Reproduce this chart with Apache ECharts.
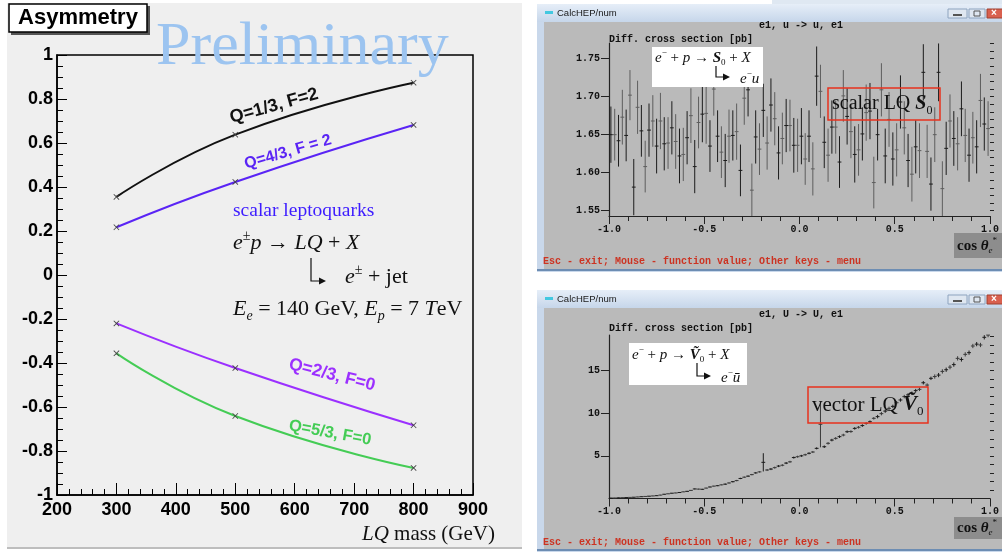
<!DOCTYPE html>
<html><head><meta charset="utf-8">
<script src="https://cdn.jsdelivr.net/npm/echarts@6/dist/echarts.min.js"></script>
<style>html,body{margin:0;padding:0;background:#fff}#c{width:1002px;height:554px}</style>
</head><body><div id="c"></div><script>
// ---------- Left panel: asymmetry vs LQ mass ----------
const massLQ = [300, 500, 800];
const asymQ13F2 = [0.355, 0.638, 0.874];
const asymQ43F2 = [0.217, 0.423, 0.682];
const asymQ23F0 = [-0.220, -0.423, -0.683];
const asymQ53F0 = [-0.356, -0.641, -0.877];

// ---------- Right panels: CalcHEP histograms (100 bins on cos theta) ----------
const cosLow = -1.0, cosBinWidth = 0.02;
const s0Values = [
 1.650,1.650,1.642,1.673,1.649,1.702,1.581,1.686,1.655,1.608,
 1.656,1.668,1.635,1.668,1.638,1.639,1.659,1.641,1.622,1.624,
 1.646,1.675,1.608,1.666,1.677,1.678,1.635,1.710,1.648,1.627,
 1.616,1.648,1.649,1.654,1.603,1.698,1.709,1.577,1.647,1.631,
 1.682,1.639,1.689,1.671,1.626,1.645,1.662,1.662,1.636,1.636,
 1.648,1.618,1.648,1.605,1.727,1.707,1.640,1.623,1.660,1.660,
 1.614,1.701,1.674,1.654,1.624,1.630,1.651,1.679,1.681,1.587,
 1.650,1.709,1.622,1.670,1.618,1.630,1.693,1.659,1.616,1.598,
 1.634,1.629,1.732,1.628,1.585,1.650,1.732,1.579,1.632,1.668,
 1.645,1.638,1.684,1.649,1.623,1.646,1.634,1.695,1.664,1.658];
const s0Errors = [
 0.037,0.034,0.034,0.036,0.034,0.033,0.037,0.035,0.034,0.034,
 0.035,0.034,0.036,0.037,0.035,0.034,0.035,0.036,0.036,0.035,
 0.035,0.036,0.035,0.034,0.037,0.040,0.034,0.035,0.034,0.034,
 0.035,0.035,0.033,0.037,0.034,0.035,0.035,0.035,0.035,0.034,
 0.035,0.035,0.035,0.035,0.035,0.034,0.035,0.034,0.036,0.035,
 0.037,0.034,0.034,0.035,0.039,0.035,0.034,0.035,0.035,0.035,
 0.034,0.034,0.037,0.035,0.037,0.034,0.035,0.037,0.037,0.034,
 0.034,0.035,0.036,0.036,0.035,0.035,0.035,0.035,0.035,0.036,
 0.035,0.036,0.037,0.035,0.035,0.036,0.038,0.036,0.035,0.035,
 0.036,0.035,0.036,0.035,0.035,0.034,0.035,0.035,0.035,0.036];
const v0Values = [
 0.05,0.06,0.08,0.10,0.11,0.13,0.15,0.18,0.21,0.24,
 0.27,0.30,0.33,0.40,0.50,0.55,0.62,0.65,0.70,0.78,
 0.84,0.95,1.12,1.10,1.08,1.22,1.35,1.45,1.50,1.60,
 1.68,1.82,1.97,2.10,2.35,2.50,2.62,2.80,3.00,3.12,
 4.24,3.34,3.45,3.62,3.80,3.90,4.15,4.30,4.80,4.90,
 5.00,5.13,5.30,5.45,5.88,8.70,6.07,6.47,6.85,7.05,
 7.25,7.44,7.83,7.85,8.22,8.35,8.55,8.80,9.00,9.40,
 9.60,9.95,10.25,10.57,10.80,11.23,11.55,11.95,12.15,12.35,
 12.65,12.80,13.57,13.30,14.09,14.30,14.47,14.90,15.10,15.40,
 15.70,16.43,16.30,16.90,17.10,17.88,18.10,18.00,18.90,19.16];
const v0Errors = [
 0.02,0.02,0.02,0.02,0.02,0.02,0.02,0.02,0.02,0.02,
 0.03,0.03,0.03,0.03,0.03,0.03,0.03,0.03,0.03,0.03,
 0.05,0.05,0.05,0.05,0.05,0.05,0.05,0.05,0.05,0.05,
 0.08,0.08,0.08,0.08,0.08,0.08,0.08,0.08,0.08,0.08,
 1.07,0.12,0.12,0.12,0.12,0.12,0.12,0.12,0.12,0.12,
 0.12,0.12,0.12,0.12,0.12,2.70,0.15,0.15,0.15,0.15,
 0.15,0.15,0.15,0.15,0.15,0.15,0.15,0.15,0.15,0.15,
 0.20,0.20,0.20,0.20,0.20,0.20,0.20,0.20,0.20,0.20,
 0.20,0.20,0.20,0.20,0.20,0.25,0.25,0.25,0.25,0.25,
 0.25,0.25,0.25,0.25,0.25,0.25,0.25,0.25,0.25,0.25];

const cosTickLabels = [-1.0, -0.5, 0.0, 0.5, 1.0];
const s0MajorTicks = [1.55, 1.60, 1.65, 1.70, 1.75];
const s0MinorTicks = [1.55,1.56,1.57,1.58,1.59,1.60,1.61,1.62,1.63,1.64,1.65,1.66,1.67,1.68,1.69,1.70,1.71,1.72,1.73,1.74,1.75,1.76,1.77];
const v0MajorTicks = [5, 10, 15];
const v0MinorTicks = [1,2,3,4,5,6,7,8,9,10,11,12,13,14,15,16,17,18,19];

const binCenters = s0Values.map((_, i) => +(cosLow + cosBinWidth * (i + 0.5)).toFixed(3));
const s0Data = binCenters.map((x, i) => [x, s0Values[i], s0Errors[i]]);
const v0Data = binCenters.map((x, i) => [x, v0Values[i], v0Errors[i]]);

const serif = "'Liberation Serif','DejaVu Serif',serif";
const mono = "'Liberation Mono','DejaVu Sans Mono',monospace";
const sans = "'Liberation Sans',Arial,sans-serif";

function errRender(c1, c2) {
  return function (params, api) {
    const x = api.value(0), y = api.value(1), e = api.value(2);
    const cs = params.coordSys;
    const top = cs.y, bot = cs.y + cs.height;
    const c = api.coord([x, y]);
    const hi = api.coord([x, y + e]);
    const lo = api.coord([x, y - e]);
    const l = api.coord([x - cosBinWidth / 2, y]);
    const r = api.coord([x + cosBinWidth / 2, y]);
    const col = params.dataIndex % 2 ? c2 : c1;
    const y1 = Math.max(top, hi[1]), y2 = Math.min(bot, lo[1]);
    const ch = [];
    if (y2 > y1) ch.push({type: 'line', shape: {x1: c[0], y1: y1, x2: c[0], y2: y2}, style: {stroke: col, lineWidth: 1}});
    if (c[1] >= top && c[1] <= bot) ch.push({type: 'line', shape: {x1: l[0], y1: c[1], x2: r[0], y2: c[1]}, style: {stroke: col, lineWidth: 1}});
    return {type: 'group', children: ch};
  };
}

function rich(size, color) {
  const b = {fontFamily: serif, fontSize: size, lineHeight: Math.round(size * 1.25), fill: color, color: color};
  return {
    n: Object.assign({}, b),
    m: Object.assign({}, b, {fontStyle: 'italic'}),
    bm: Object.assign({}, b, {fontStyle: 'italic', fontWeight: 'bold'}),
    b: Object.assign({}, b, {fontWeight: 'bold'}),
    sup: Object.assign({}, b, {fontSize: Math.round(size * 0.62), lineHeight: Math.round(size * 0.62), verticalAlign: 'top'}),
    sub: Object.assign({}, b, {fontSize: Math.round(size * 0.62), lineHeight: Math.round(size * 0.62), verticalAlign: 'bottom'}),
    subm: Object.assign({}, b, {fontStyle: 'italic', fontSize: Math.round(size * 0.62), lineHeight: Math.round(size * 0.62), verticalAlign: 'bottom'})
  };
}
function T(x, y, text, font, fill, align) {
  return {type: 'text', z: 20, style: {text: text, x: x, y: y, font: font, fill: fill,
    textAlign: align || 'left', align: align || 'left', textVerticalAlign: 'middle', verticalAlign: 'middle'}};
}
function RT(x, y, text, size, color) {
  return {type: 'text', z: 20, style: {text: text, x: x, y: y, rich: rich(size, color), fill: color,
    textAlign: 'left', align: 'left', textVerticalAlign: 'middle', verticalAlign: 'middle', font: size + 'px ' + serif}};
}
function rotT(cx, cy, rot, text, font, fill) {
  return {type: 'text', z: 20, x: cx, y: cy, rotation: rot, style: {text: text, x: 0, y: 0, font: font, fill: fill,
    textAlign: 'center', align: 'center', textVerticalAlign: 'middle', verticalAlign: 'middle'}};
}
function R(x, y, w, h, fill, stroke, lw, z) {
  return {type: 'rect', z: z === undefined ? -5 : z, shape: {x: x, y: y, width: w, height: h},
    style: {fill: fill || 'none', stroke: stroke || 'none', lineWidth: lw || 0}};
}
function L(pts, stroke, lw, z) {
  return {type: 'polyline', z: z === undefined ? 20 : z, shape: {points: pts}, style: {stroke: stroke, lineWidth: lw, fill: 'none'}};
}
function arrowHook(x, y1, y2, x2, col) {
  return [L([[x, y1], [x, y2], [x2, y2]], col, 1.2),
    {type: 'polygon', z: 20, shape: {points: [[x2 + 6, y2], [x2 - 1, y2 - 3.5], [x2 - 1, y2 + 3.5]]}, style: {fill: col}}];
}
function windowChrome(top, bottom) {
  const grad = new echarts.graphic.LinearGradient(0, 0, 0, 1, [{offset: 0, color: '#e6eef8'}, {offset: 1, color: '#c6d6ea'}]);
  return [
    R(537, top, 470, bottom - top + 3, '#c9d8eb', null, 0, -6),
    {type: 'rect', z: -5, shape: {x: 537, y: top, width: 470, height: 18}, style: {fill: grad}},
    R(544, top + 18, 460, bottom - top - 18, '#bababa', null, 0, -5),
    R(537, bottom, 470, 2, '#6d8db3', null, 0, -5),
    R(545, top + 7, 8, 3, '#43c8e0', null, 0, 20),
    T(557, top + 9, 'CalcHEP/num', '9.5px ' + sans, '#1a1a1a'),
    R(948, top + 5, 19, 9, '#dfe7f1', '#8ea4bf', 1, 20),
    R(969, top + 5, 16, 9, '#dfe7f1', '#8ea4bf', 1, 20),
    R(987, top + 5, 16, 9, '#d9604f', '#a04030', 1, 20),
    R(953, top + 10, 9, 2, '#555', null, 0, 21),
    R(974, top + 7, 6, 5, 'none', '#555', 1, 21),
    T(991, top + 9.5, '×', 'bold 10px ' + sans, '#fff')
  ];
}

const graphics = [].concat(
  [
    R(0, 0, 1002, 554, '#ffffff', null, 0, -10),
    R(7, 3, 515, 545, '#efefef', null, 0, -6),
    R(7, 547, 515, 2, '#bdbdbd', null, 0, -6),
    R(772, 0, 230, 4, '#dfe8f2', null, 0, -6)
  ],
  windowChrome(4, 269),
  windowChrome(290, 549),
  [
    // Left panel decorations
    R(11, 6, 139, 29, '#555555', null, 0, 19),
    R(9, 4, 138, 28, '#ffffff', '#000000', 1.5, 19),
    T(78, 18, 'Asymmetry', 'bold 22px ' + sans, '#000', 'center'),
    {type: 'text', z: 25, style: {text: 'Preliminary', x: 156, y: 48, font: '62px ' + serif, fill: '#9cc4f0',
      shadowColor: '#8396ac', shadowOffsetX: 3, shadowOffsetY: 2, shadowBlur: 0,
      textAlign: 'left', align: 'left', textVerticalAlign: 'middle', verticalAlign: 'middle'}},
    rotT(274, 106, 0.27, 'Q=1/3, F=2', 'bold 18px ' + sans, '#111111'),
    rotT(288, 152, 0.28, 'Q=4/3, F = 2', 'bold 16px ' + sans, '#5a24f5'),
    rotT(332, 375, -0.25, 'Q=2/3, F=0', 'bold 17.5px ' + sans, '#9b30ff'),
    rotT(330, 433, -0.18, 'Q=5/3, F=0', 'bold 16.5px ' + sans, '#44cc55'),
    T(233, 211, 'scalar leptoquarks', '19.5px ' + serif, '#3d1cff'),
    RT(233, 243, '{m|e}{sup|±}{m|p}{n| → }{m|LQ}{n| + }{m|X}', 22, '#111'),
    RT(345, 277, '{m|e}{sup|±}{n| + jet}', 22, '#111'),
    RT(233, 309, '{m|E}{subm|e}{n| = 140 GeV, }{m|E}{subm|p}{n| = 7 }{m|T}{n|eV}', 22, '#111'),
    RT(362, 534, '{m|LQ}{n| mass (GeV)}', 21, '#111'),
    // Top CalcHEP window
    T(801, 25, 'e1, u -> u, e1', 'bold 10px ' + mono, '#111', 'center'),
    T(609, 39, 'Diff. cross section [pb]', 'bold 10px ' + mono, '#111'),
    R(652, 47, 111, 40, '#ffffff', null, 0, 18),
    RT(655, 58, '{m|e}{sup|−}{n| + }{m|p}{n| → }{bm|S}{sub|0}{n| + }{m|X}', 15, '#111'),
    RT(740, 79, '{m|e}{sup|−}{m|u}', 15, '#111'),
    R(828, 88, 112, 32, 'none', '#e8321e', 1.5, 22),
    RT(832, 104, '{n|scalar LQ }{bm|S}{sub|0}', 20, '#111'),
    R(954, 233, 48, 25, '#8d8d8d', null, 0, 18),
    RT(957, 246, '{b|cos }{bm|θ}{subm|e}{sup|*}', 15, '#111'),
    T(543, 261, 'Esc - exit; Mouse - function value; Other keys - menu', 'bold 10px ' + mono, '#cc3322'),
    // Bottom CalcHEP window
    T(801, 314, 'e1, U -> U, e1', 'bold 10px ' + mono, '#111', 'center'),
    T(609, 328, 'Diff. cross section [pb]', 'bold 10px ' + mono, '#111'),
    R(629, 343, 118, 42, '#ffffff', null, 0, 18),
    RT(632, 355, '{m|e}{sup|−}{n| + }{m|p}{n| → }{bm|Ṽ}{sub|0}{n| + }{m|X}', 15, '#111'),
    RT(721, 378, '{m|e}{sup|−}{m|ū}', 15, '#111'),
    R(808, 387, 120, 36, 'none', '#e8321e', 1.5, 22),
    RT(812, 405, '{n|vector LQ }{bm|Ṽ}{sub|0}', 21, '#111'),
    R(954, 517, 48, 22, '#8d8d8d', null, 0, 18),
    RT(957, 528, '{b|cos }{bm|θ}{subm|e}{sup|*}', 15, '#111'),
    T(543, 542, 'Esc - exit; Mouse - function value; Other keys - menu', 'bold 10px ' + mono, '#cc3322')
  ],
  arrowHook(311, 258, 281, 320, '#111'),
  arrowHook(716, 66, 77, 724, '#111'),
  arrowHook(697, 363, 376, 705, '#111')
);

const rootLabel = {color: '#000', fontFamily: sans, fontWeight: 'bold', fontSize: 18};
const monoLabel = {color: '#111', fontFamily: mono, fontWeight: 'bold', fontSize: 10};
const X = 'path://M0,1L1,0L5,4L9,0L10,1L6,5L10,9L9,10L5,6L1,10L0,9L4,5Z';

function lqSeries(vals, color) {
  return {type: 'line', xAxisIndex: 0, yAxisIndex: 0, smooth: 0.5, data: massLQ.map((m, i) => [m, vals[i]]),
    symbol: X, symbolSize: 6, itemStyle: {color: '#444'}, lineStyle: {color: color, width: 2}, z: 5, silent: true};
}
function cosAxis(gi) {
  return {gridIndex: gi, type: 'value', min: -1, max: 1, interval: 0.5,
    axisLine: {onZero: false, lineStyle: {color: '#222', width: 1.2}},
    axisTick: {length: 8, lineStyle: {color: '#222'}},
    minorTick: {show: true, splitNumber: 5, length: 5, lineStyle: {color: '#222'}},
    splitLine: {show: false},
    axisLabel: Object.assign({margin: 8, customValues: cosTickLabels, formatter: v => v.toFixed(1)}, monoLabel)};
}
function yMajor(gi, mn, mx, ticks, fmt) {
  return {gridIndex: gi, type: 'value', min: mn, max: mx,
    axisLine: {onZero: false, lineStyle: {color: '#222', width: 1.2}},
    axisTick: {length: 8, customValues: ticks, lineStyle: {color: '#222'}},
    splitLine: {show: false},
    axisLabel: Object.assign({margin: 9, customValues: ticks, formatter: fmt}, monoLabel)};
}
function yMinor(gi, mn, mx, ticks) {
  return {gridIndex: gi, type: 'value', min: mn, max: mx,
    axisLine: {show: false, onZero: false}, axisLabel: {show: false}, splitLine: {show: false},
    axisTick: {length: 4, customValues: ticks, lineStyle: {color: '#222'}}};
}

const chart = echarts.init(document.getElementById('c'), null, {renderer: 'canvas', width: 1002, height: 554});
chart.setOption({
  animation: false,
  backgroundColor: '#ffffff',
  grid: [
    {left: 57, top: 55, width: 416, height: 440, show: true, borderColor: '#000', borderWidth: 1.5, backgroundColor: 'transparent'},
    {left: 609, top: 43, width: 385, height: 173},
    {left: 609, top: 335, width: 385, height: 163.5}
  ],
  xAxis: [
    {gridIndex: 0, type: 'value', min: 200, max: 900, interval: 100,
      axisLine: {onZero: false, lineStyle: {color: '#000', width: 1.5}},
      axisTick: {inside: true, length: 12, lineStyle: {color: '#000', width: 1}},
      minorTick: {show: true, splitNumber: 5, length: 6, lineStyle: {color: '#000', width: 1}},
      splitLine: {show: false}, axisLabel: Object.assign({margin: 6}, rootLabel)},
    cosAxis(1),
    cosAxis(2)
  ],
  yAxis: [
    {gridIndex: 0, type: 'value', min: -1, max: 1, interval: 0.2,
      axisLine: {onZero: false, lineStyle: {color: '#000', width: 1.5}},
      axisTick: {inside: true, length: 10, lineStyle: {color: '#000', width: 1}},
      minorTick: {show: true, splitNumber: 4, length: 6, lineStyle: {color: '#000', width: 1}},
      splitLine: {show: false}, axisLabel: Object.assign({margin: 4}, rootLabel)},
    yMajor(1, 1.543, 1.7706, s0MajorTicks, v => v.toFixed(2)),
    yMinor(1, 1.543, 1.7706, s0MinorTicks),
    yMajor(2, 0, 19.17, v0MajorTicks, v => String(v)),
    yMinor(2, 0, 19.17, v0MinorTicks)
  ],
  series: [
    lqSeries(asymQ13F2, '#111111'),
    lqSeries(asymQ43F2, '#5a24f5'),
    lqSeries(asymQ23F0, '#9b30ff'),
    lqSeries(asymQ53F0, '#44cc55'),
    {type: 'custom', xAxisIndex: 1, yAxisIndex: 1, data: s0Data, renderItem: errRender('#1c1c1c', '#5e5e5e'), silent: true, z: 3},
    {type: 'custom', xAxisIndex: 2, yAxisIndex: 3, data: v0Data, renderItem: errRender('#1c1c1c', '#3a3a3a'), silent: true, z: 3}
  ],
  graphic: {elements: graphics}
});
</script></body></html>
